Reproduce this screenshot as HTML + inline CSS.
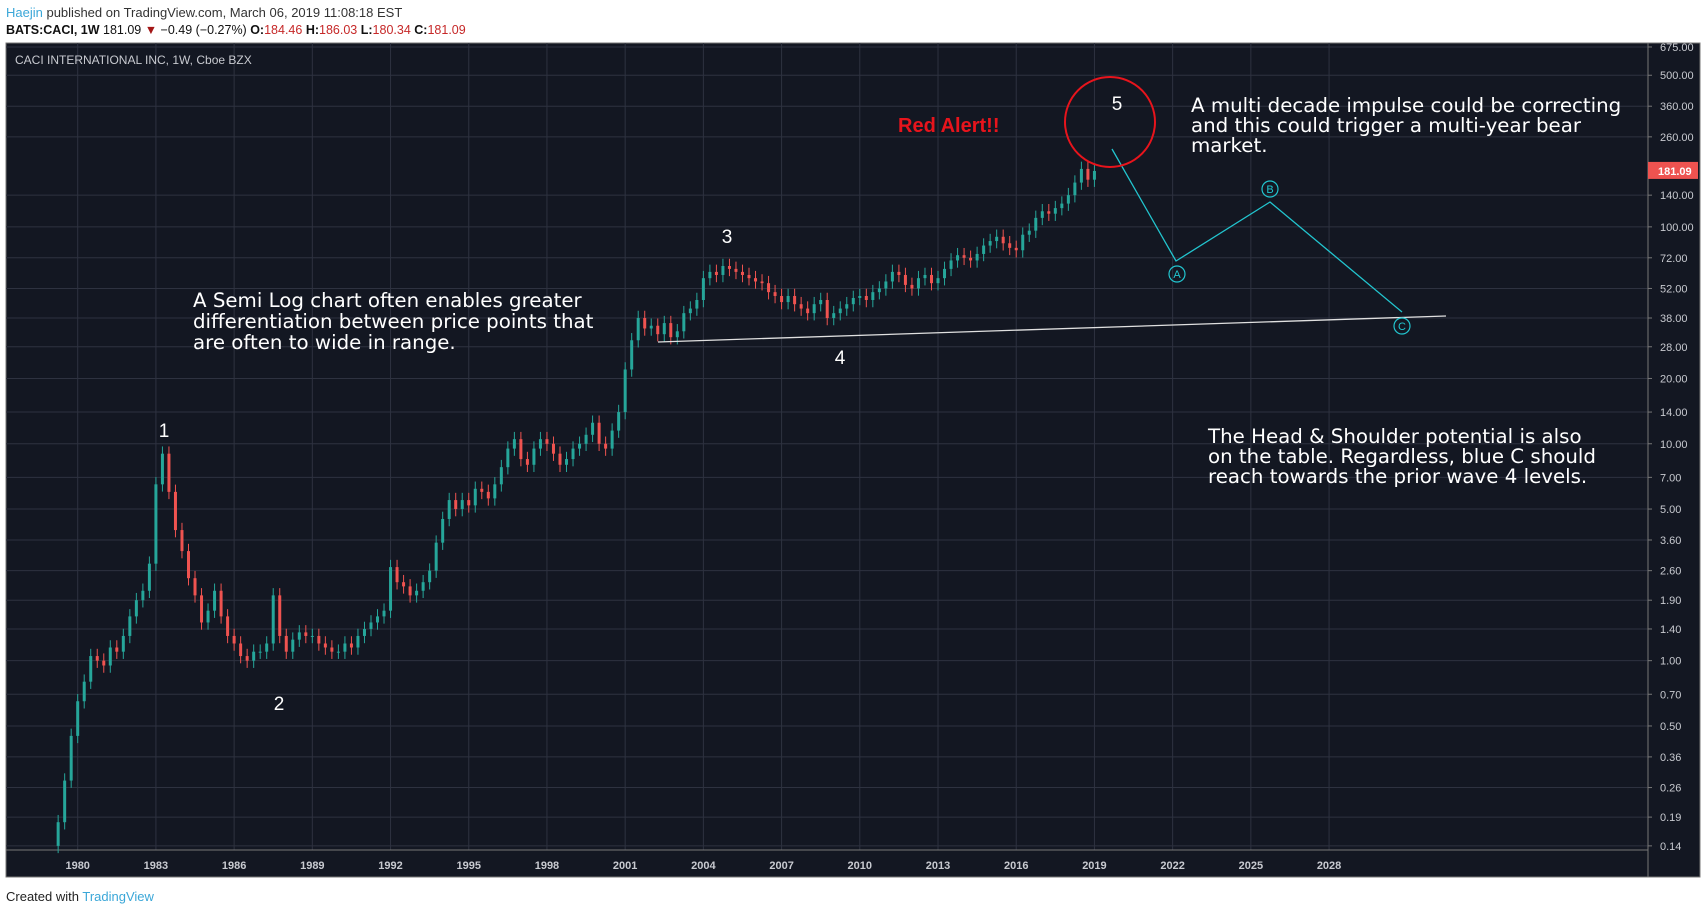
<!DOCTYPE html>
<html><head><meta charset="utf-8">
<style>
body{margin:0;background:#fff;width:1706px;height:914px;overflow:hidden;font-family:"Liberation Sans",sans-serif}
svg{position:absolute;left:0;top:0}
</style></head>
<body>
<svg id="chart" width="1706" height="914">
<text x="6" y="17" font-size="13" fill="#333"><tspan fill="#3ba7d8">Haejin</tspan> published on TradingView.com, March 06, 2019 11:08:18 EST</text>
<text x="6" y="34" font-size="12.5" fill="#111"><tspan font-weight="bold">BATS:CACI, 1W</tspan>  181.09 <tspan fill="#a31616">▼</tspan> −0.49 (−0.27%) <tspan font-weight="bold">O:</tspan><tspan fill="#c62828">184.46</tspan> <tspan font-weight="bold">H:</tspan><tspan fill="#c62828">186.03</tspan> <tspan font-weight="bold">L:</tspan><tspan fill="#c62828">180.34</tspan> <tspan font-weight="bold">C:</tspan><tspan fill="#c62828">181.09</tspan></text>
<rect x="6" y="43" width="1694" height="834" fill="#131722" stroke="#777"/>
<g id="grid"></g>
<line x1="1648" y1="43" x2="1648" y2="877" stroke="#777"/>
<line x1="6" y1="850" x2="1648" y2="850" stroke="#777"/>
<g id="candles"></g>
<g id="ticks"></g>
<text x="15" y="64" font-size="12" fill="#c8cad0">CACI INTERNATIONAL INC, 1W, Cboe BZX</text>
<line x1="658" y1="342" x2="1446" y2="316" stroke="#e0e0e0" stroke-width="1.3"/>
<polyline points="1112,149 1176,261 1270,202 1402,312" fill="none" stroke="#22c5cf" stroke-width="1.3"/>
<g fill="none" stroke="#22c5cf" stroke-width="1.2" font-size="11">
<circle cx="1177" cy="274" r="8"/><circle cx="1270" cy="189" r="8"/><circle cx="1402" cy="326" r="8"/>
<text x="1177" y="278" text-anchor="middle" fill="#22c5cf" stroke="none">A</text>
<text x="1270" y="193" text-anchor="middle" fill="#22c5cf" stroke="none">B</text>
<text x="1402" y="330" text-anchor="middle" fill="#22c5cf" stroke="none">C</text>
</g>
<circle cx="1110" cy="122" r="45" fill="none" stroke="#e8141c" stroke-width="2"/>
<text x="898" y="132" font-size="20" font-weight="bold" fill="#e8141c">Red Alert!!</text>
<g font-size="19" fill="#fff">
<text x="1117" y="110" text-anchor="middle">5</text>
<text x="727" y="243" text-anchor="middle">3</text>
<text x="840" y="364" text-anchor="middle">4</text>
<text x="164" y="437" text-anchor="middle">1</text>
<text x="279" y="710" text-anchor="middle">2</text>
</g>
<g font-family="'DejaVu Sans',sans-serif" font-size="19.8" fill="#fff">
<text x="1191" y="112">A multi decade impulse could be correcting</text>
<text x="1191" y="132">and this could trigger a multi-year bear</text>
<text x="1191" y="152">market.</text>
<text x="193" y="307">A Semi Log chart often enables greater</text>
<text x="193" y="328">differentiation between price points that</text>
<text x="193" y="349">are often to wide in range.</text>
<text x="1208" y="443">The Head &amp; Shoulder potential is also</text>
<text x="1208" y="463">on the table. Regardless, blue C should</text>
<text x="1208" y="483">reach towards the prior wave 4 levels.</text>
</g>
<text x="6" y="901" font-size="13" fill="#222">Created with <tspan fill="#3ba7d8">TradingView</tspan></text>
</svg>
<script>
const priceTicks=[675,500,360,260,140,100,72,52,38,28,20,14,10,7,5,3.6,2.6,1.9,1.4,1.0,0.70,0.50,0.36,0.26,0.19,0.14];
const yearTicks=[1980,1983,1986,1989,1992,1995,1998,2001,2004,2007,2010,2013,2016,2019,2022,2025,2028];
const startYear=1979.25;
const closes=[0.18,0.28,0.45,
0.65,0.8,1.05,1.0, 0.95,1.15,1.1,1.3, 1.6,1.9,2.1,2.8, 6.5,9.0,6.0,4.0,
3.2,2.4,2.0,1.5, 1.7,2.1,1.6,1.3, 1.2,1.05,1.0,1.1, 1.1,1.2,2.0,1.3,
1.1,1.25,1.35,1.3, 1.3,1.2,1.15,1.1, 1.1,1.2,1.15,1.3, 1.4,1.5,1.6,1.7,
2.7,2.3,2.2,2.0, 2.1,2.3,2.6,3.5, 4.5,5.5,5.0,5.5, 5.2,6.2,6.0,5.6,
6.5,7.8,9.5,10.5, 8.5,8.0,9.5,10.5, 10.0,9.0,8.0,8.5, 9.5,10.0,11.0,12.5,
10.0,9.5,11.5,14.0, 22,30,38,34, 35,32,36,31, 33,40,42,46,
58,62,60,66, 64,62,60,58, 56,55,50,48, 45,48,44,42,
40,44,46,38, 40,42,44,47, 48,46,50,52, 56,62,60,54,
52,58,60,55, 58,64,70,74, 72,70,75,82, 86,90,84,80,
78,92,96,110, 118,115,122,128, 140,160,185,165, 181];
const lastPrice=181.09;
const ns="http://www.w3.org/2000/svg";
function xOf(y){return 77.7+(y-1980)*26.07;}
function yOf(p){return 318-(Math.log(p)-Math.log(38))*94.2;}
function mk(t,a,parent){const e=document.createElementNS(ns,t);for(const k in a)e.setAttribute(k,a[k]);parent.appendChild(e);return e;}
const grid=document.getElementById('grid'),ticks=document.getElementById('ticks'),cg=document.getElementById('candles');
priceTicks.forEach(p=>{const y=yOf(p);
const l=mk('line',{x1:6,x2:1648,y1:y,y2:y,stroke:'#2e3240'},grid);


const t=mk('text',{x:1660,y:y+4,'font-size':11,fill:'#c8cad0'},ticks);t.textContent=p.toFixed(2);


mk('line',{x1:1648,x2:1652,y1:y,y2:y,stroke:'#777'},ticks);});
yearTicks.forEach(yr=>{const x=xOf(yr);
const l=mk('line',{x1:x,x2:x,y1:43,y2:850,stroke:'#2e3240'},grid);


const t=mk('text',{x:x,y:869,'font-size':11,'font-weight':'bold',fill:'#c8cad0','text-anchor':'middle'},ticks);t.textContent=yr;

});
let prev=0.14;
closes.forEach((c,i)=>{const x=xOf(startYear+i*0.25);const up=c>=prev;const col=up?'#26a69a':'#ef5350';
const hi=Math.max(c,prev)*1.08,lo=Math.min(c,prev)/1.08;
mk('line',{x1:x,x2:x,y1:yOf(hi),y2:yOf(lo),stroke:col,'stroke-width':1},cg);
const r=mk('rect',{x:x-1.5,y:yOf(Math.max(c,prev)),width:3,height:Math.max(1,Math.abs(yOf(c)-yOf(prev))),fill:col},cg);


prev=c;});
const ly=yOf(lastPrice);
const lb=mk('rect',{x:1648,y:ly-9,width:50,height:17,fill:'#ef5350'},ticks);


const lt=mk('text',{x:1658,y:ly+4,'font-size':11,'font-weight':'bold',fill:'#fff'},ticks);lt.textContent=lastPrice.toFixed(2);
</script>
</body></html>
